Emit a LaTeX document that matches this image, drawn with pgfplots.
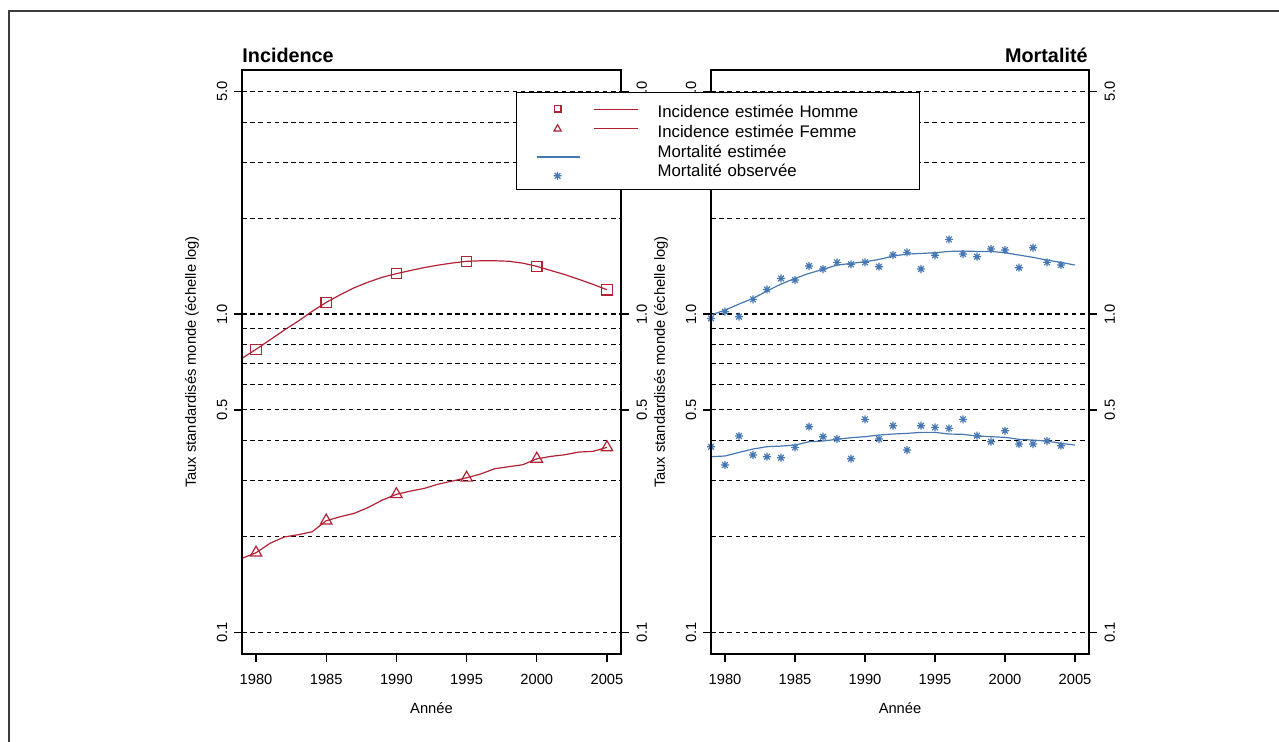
\documentclass[border=0pt]{standalone}
\usepackage{pgfplots}
\pgfplotsset{compat=1.18}
\usepackage{fontspec}
\setmainfont{Liberation Sans}
\definecolor{rred}{RGB}{178,34,52}
\definecolor{rblue}{RGB}{70,120,180}
\definecolor{framegray}{RGB}{60,60,60}

\pgfdeclareplotmark{rstar}{%
  \pgfpathmoveto{\pgfqpoint{-\pgfplotmarksize}{0pt}}\pgfpathlineto{\pgfqpoint{\pgfplotmarksize}{0pt}}%
  \pgfpathmoveto{\pgfqpoint{0pt}{-\pgfplotmarksize}}\pgfpathlineto{\pgfqpoint{0pt}{\pgfplotmarksize}}%
  \pgfpathmoveto{\pgfqpoint{-0.7071\pgfplotmarksize}{-0.7071\pgfplotmarksize}}\pgfpathlineto{\pgfqpoint{0.7071\pgfplotmarksize}{0.7071\pgfplotmarksize}}%
  \pgfpathmoveto{\pgfqpoint{-0.7071\pgfplotmarksize}{0.7071\pgfplotmarksize}}\pgfpathlineto{\pgfqpoint{0.7071\pgfplotmarksize}{-0.7071\pgfplotmarksize}}%
  \pgfusepathqstroke}

\pgfplotsset{
  every axis/.append style={
    scale only axis, height=292pt,
    xmin=1979, xmax=2006,
    xtick={1980,1985,1990,1995,2000,2005},
    xticklabels={1980,1985,1990,1995,2000,2005},
    tick align=outside, major tick length=3.8pt, minor tick length=0pt,
    axis line style={line width=0.7pt, black},
    major tick style={black, line width=0.7pt},
    tick label style={font=\fontsize{7.35}{8.5}\selectfont},
    every axis label/.append style={font=\fontsize{7.35}{8.5}\selectfont},
  },
}

\begin{document}
\begin{tikzpicture}
\useasboundingbox (0pt,0pt) rectangle (639.5pt,-371pt);

% ---------------- Left panel: Incidence ----------------
\begin{axis}[ymode=log, ymin=0.0856, ymax=5.84,
  ytick={0.1,0.5,1,5}, yticklabels={0.1,0.5,1.0,5.0},
  minor ytick={0.2,0.3,0.4,0.6,0.7,0.8,0.9,2,3,4},
  width=189.5pt, at={(121pt,-35pt)}, anchor=north west,
  xtick pos=bottom, ytick pos=left,
  xticklabel style={yshift=-2.8pt},
  yticklabel style={xshift=0pt, rotate=90, anchor=south},
  ymajorgrids, yminorgrids,
  major grid style={black, line width=0.55pt, dash pattern=on 2.3pt off 1.8pt},
  minor grid style={black, line width=0.55pt, dash pattern=on 2.3pt off 1.8pt},
  xlabel={Année},
  xlabel style={at={(axis description cs:0.5,-0.0925)}, anchor=center},
  ylabel={Taux standardisés monde (échelle log)},
  ylabel style={at={(axis description cs:-0.132,0.5)}, anchor=center},
  title=Incidence,
  title style={at={(axis description cs:0,1)}, anchor=base west, inner sep=0pt,
    yshift=-2.15pt, font=\bfseries\fontsize{9.9}{11}\selectfont}]
\addplot[rred, line width=0.6pt, no marks] coordinates {
(1979,0.726)(1980,0.775)(1981,0.83)(1982,0.89)(1983,0.95)(1984,1.02)(1985,1.088)
(1986,1.15)(1987,1.21)(1988,1.26)(1989,1.305)(1990,1.339)(1991,1.37)(1992,1.40)
(1993,1.425)(1994,1.447)(1995,1.464)(1996,1.47)(1997,1.47)(1998,1.465)(1999,1.445)
(2000,1.412)(2001,1.37)(2002,1.33)(2003,1.285)(2004,1.24)(2005,1.192)};
\addplot[rred, only marks, mark=square, mark size=2.6pt, mark options={line width=0.6pt}] coordinates {
(1980,0.775)(1985,1.088)(1990,1.339)(1995,1.464)(2000,1.412)(2005,1.192)};
\addplot[rred, line width=0.6pt, no marks] coordinates {
(1979,0.171)(1980,0.178)(1981,0.1906)(1982,0.1995)(1983,0.2028)(1984,0.2072)(1985,0.2244)
(1986,0.231)(1987,0.2367)(1988,0.247)(1989,0.2606)(1990,0.2716)(1991,0.278)(1992,0.2836)
(1993,0.2925)(1994,0.299)(1995,0.306)(1996,0.3146)(1997,0.3268)(1998,0.3316)(1999,0.3364)
(2000,0.351)(2001,0.3573)(2002,0.3616)(2003,0.3687)(2004,0.3705)(2005,0.3814)};
\addplot[rred, only marks, mark=triangle, mark size=3.3pt, mark options={line width=0.6pt}] coordinates {
(1980,0.178)(1985,0.2244)(1990,0.2716)(1995,0.306)(2000,0.351)(2005,0.3814)};
\end{axis}
\begin{axis}[ymode=log, ymin=0.0856, ymax=5.84,
  ytick={0.1,0.5,1,5}, yticklabels={0.1,0.5,1.0,5.0},
  width=189.5pt, at={(121pt,-35pt)}, anchor=north west,
  hide x axis, ytick pos=right, yticklabel pos=right,
  yticklabel style={xshift=0.5pt, rotate=90, anchor=north}]
\addplot[draw=none, no marks, forget plot] coordinates {(1990,1)};
\end{axis}

% ---------------- Right panel: Mortalite ----------------
\begin{axis}[ymode=log, ymin=0.0856, ymax=5.84,
  ytick={0.1,0.5,1,5}, yticklabels={0.1,0.5,1.0,5.0},
  minor ytick={0.2,0.3,0.4,0.6,0.7,0.8,0.9,2,3,4},
  width=189pt, at={(355.5pt,-35pt)}, anchor=north west,
  xtick pos=bottom, ytick pos=left,
  xticklabel style={yshift=-2.8pt},
  yticklabel style={xshift=0pt, rotate=90, anchor=south},
  ymajorgrids, yminorgrids,
  major grid style={black, line width=0.55pt, dash pattern=on 2.3pt off 1.8pt},
  minor grid style={black, line width=0.55pt, dash pattern=on 2.3pt off 1.8pt},
  xlabel={Année},
  xlabel style={at={(axis description cs:0.5,-0.0925)}, anchor=center},
  ylabel={Taux standardisés monde (échelle log)},
  ylabel style={at={(axis description cs:-0.132,0.5)}, anchor=center},
  title=Mortalité,
  title style={at={(axis description cs:1,1)}, anchor=base east, inner sep=0pt,
    xshift=-0.5pt, yshift=-2.15pt, font=\bfseries\fontsize{9.9}{11}\selectfont}]
\addplot[rblue, line width=0.6pt, no marks] coordinates {
(1979,0.993)(1980,1.029)(1981,1.075)(1982,1.12)(1983,1.181)(1984,1.242)(1985,1.294)
(1986,1.342)(1987,1.381)(1988,1.425)(1989,1.442)(1990,1.46)(1991,1.484)(1992,1.521)
(1993,1.543)(1994,1.55)(1995,1.558)(1996,1.573)(1997,1.577)(1998,1.573)(1999,1.573)
(2000,1.558)(2001,1.532)(2002,1.507)(2003,1.477)(2004,1.453)(2005,1.425)};
\addplot[rblue, only marks, mark=rstar, mark size=2pt, mark options={line width=0.6pt}] coordinates {
(1979,0.969)(1980,1.017)(1981,0.981)(1982,1.112)(1983,1.195)(1984,1.294)(1985,1.279)
(1986,1.415)(1987,1.385)(1988,1.453)(1989,1.432)(1990,1.453)(1991,1.408)(1992,1.532)
(1993,1.562)(1994,1.385)(1995,1.529)(1996,1.716)(1997,1.543)(1998,1.514)(1999,1.600)
(2000,1.589)(2001,1.398)(2002,1.616)(2003,1.453)(2004,1.425)};
\addplot[rblue, line width=0.6pt, no marks] coordinates {
(1979,0.3565)(1980,0.3583)(1981,0.3678)(1982,0.3768)(1983,0.3832)(1984,0.385)(1985,0.3878)
(1986,0.3973)(1987,0.3993)(1988,0.4042)(1989,0.409)(1990,0.412)(1991,0.417)(1992,0.42)
(1993,0.422)(1994,0.425)(1995,0.425)(1996,0.42)(1997,0.419)(1998,0.414)(1999,0.412)
(2000,0.410)(2001,0.4042)(2002,0.402)(2003,0.3993)(2004,0.3926)(2005,0.3878)};
\addplot[rblue, only marks, mark=rstar, mark size=2pt, mark options={line width=0.6pt}] coordinates {
(1979,0.3832)(1980,0.3356)(1981,0.414)(1982,0.3608)(1983,0.3565)(1984,0.354)(1985,0.3814)
(1986,0.4428)(1987,0.412)(1988,0.4051)(1989,0.3513)(1990,0.467)(1991,0.4051)(1992,0.446)
(1993,0.374)(1994,0.446)(1995,0.4407)(1996,0.4375)(1997,0.467)(1998,0.415)(1999,0.3973)
(2000,0.430)(2001,0.3907)(2002,0.3907)(2003,0.3993)(2004,0.386)};
\end{axis}
\begin{axis}[ymode=log, ymin=0.0856, ymax=5.84,
  ytick={0.1,0.5,1,5}, yticklabels={0.1,0.5,1.0,5.0},
  width=189pt, at={(355.5pt,-35pt)}, anchor=north west,
  hide x axis, ytick pos=right, yticklabel pos=right,
  yticklabel style={xshift=0.5pt, rotate=90, anchor=north},
  legend cell align=left,
  legend style={at={(-0.5159,0.9623)}, anchor=north west,
    draw=black, line width=0.6pt, fill=white,
    inner xsep=0pt, inner ysep=4.6pt, row sep=0pt,
    font=\fontsize{8.4}{10}\selectfont,
    nodes={inner sep=0pt, text height=7.9pt, text depth=1.95pt, text width=131pt}}]
\addplot[draw=none, no marks, forget plot] coordinates {(1990,1)};
\addlegendimage{rred, line width=0.6pt, legend image code/.code={
  \path[draw=none, fill=none] (0pt,-1pt) rectangle (70.5pt,1pt);
  \draw[draw=rred, line width=0.6pt] (38.5pt,1.25pt) -- (60.5pt,1.25pt);
  \draw[rred, line width=0.6pt, mark=square, mark size=1.7pt] plot coordinates {(20.5pt,1.5pt)};}}
\addlegendentry{Incidence estimée Homme}
\addlegendimage{rred, line width=0.6pt, legend image code/.code={
  \path[draw=none, fill=none] (0pt,-1pt) rectangle (70.5pt,1pt);
  \draw[draw=rred, line width=0.6pt] (38.5pt,1.25pt) -- (60.5pt,1.25pt);
  \draw[rred, line width=0.6pt, mark=triangle, mark size=2.1pt] plot coordinates {(20.5pt,1.2pt)};}}
\addlegendentry{Incidence estimée Femme}
\addlegendimage{rblue, line width=0.6pt, legend image code/.code={
  \path[draw=none, fill=none] (0pt,-1pt) rectangle (70.5pt,1pt);
  \draw[draw=rblue, line width=0.6pt] (10pt,-3pt) -- (31.5pt,-3pt);}}
\addlegendentry{Mortalité estimée}
\addlegendimage{rblue, line width=0.6pt, legend image code/.code={
  \path[draw=none, fill=none] (0pt,-1pt) rectangle (70.5pt,1pt);
  \draw[rblue, line width=0.6pt, mark=rstar, mark size=2pt] plot coordinates {(20.5pt,-2.5pt)};}}
\addlegendentry{Mortalité observée}
\end{axis}

\draw[framegray, line width=1pt] (4.25pt,-372pt) -- (4.25pt,-5.35pt) -- (640pt,-5.35pt);
\end{tikzpicture}
\end{document}
